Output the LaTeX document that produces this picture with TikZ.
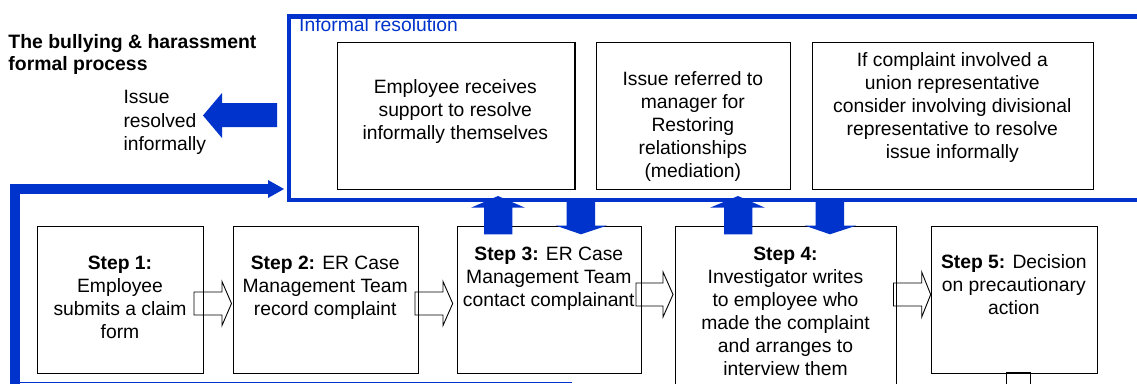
\documentclass[tikz,border=0pt]{standalone}
\usepackage{fontspec}
\setmainfont{Liberation Sans}
\definecolor{ublue}{RGB}{0,51,204}
\tikzset{
  box/.style={draw=black, line width=1.3pt, inner sep=0pt, anchor=north west},
  txt/.style={inner sep=0pt, align=center, anchor=north, font=\fontsize{19.3}{23}\selectfont},
  bluefill/.style={fill=ublue, draw=none},
  openarrow/.style={draw=black, line width=0.9pt, line join=miter, fill=none},
}
\begin{document}
\begin{tikzpicture}[x=1pt,y=-1pt]
\useasboundingbox (0,0) rectangle (1137,383);
\clip (0,0) rectangle (1137,383);

% informal resolution frame
\node[draw=ublue, line width=4.5pt, inner sep=0pt, anchor=north west,
      minimum width=900pt, minimum height=183.5pt] (inf) at (286.5,14) {};
\node[anchor=base west, inner sep=0pt, text=ublue, font=\fontsize{19.3}{23}\selectfont]
      (inftitle) at (299,31.7) {Informal resolution};

% title
\node[anchor=north west, inner sep=0pt, align=left, font=\fontsize{19.4}{22.4}\selectfont\bfseries]
      (title) at (8.3,32.6) {\strut The bullying \& harassment\\\strut formal process};

% issue resolved informally
\node[anchor=north west, inner sep=0pt, align=left, font=\fontsize{19.3}{23.5}\selectfont]
      (resolved) at (123.3,86.85) {\strut Issue\\\strut resolved\\\strut informally};
\fill[ublue] (277,103) -- (222,103) -- (222,93) -- (203,115.5) -- (222,138) -- (222,127) -- (277,127) -- cycle;

% informal boxes
\node[box, minimum width=237.3pt, minimum height=147.3pt] (ia) at (337,41.7) {};
\node[box, minimum width=194.3pt, minimum height=147.3pt] (ib) at (595.7,41.7) {};
\node[box, minimum width=281.3pt, minimum height=147.3pt] (ic) at (811.7,41.7) {};
\node[txt] (iat) at (455.3,77.4) {\strut Employee receives\\\strut support to resolve\\\strut informally themselves};
\node[txt] (ibt) at (692.8,68.9) {\strut Issue referred to\\\strut manager for\\\strut Restoring\\\strut relationships\\\strut (mediation)};
\node[txt] (ict) at (952.3,50.6) {\strut If complaint involved a\\\strut union representative\\\strut consider involving divisional\\\strut representative to resolve\\\strut issue informally};

% step boxes
\node[box, minimum width=166pt, minimum height=147pt] (s1) at (37,225.7) {};
\node[box, minimum width=185pt, minimum height=147pt] (s2) at (232.7,225.7) {};
\node[box, minimum width=184.3pt, minimum height=147pt] (s3) at (456.7,225.7) {};
\node[box, minimum width=221pt, minimum height=200pt] (s4) at (675,225.7) {};
\node[box, minimum width=166.3pt, minimum height=147pt] (s5) at (930.7,225.7) {};
\node[txt] (s1t) at (120,253.2) {\strut\textbf{Step 1:}\\\strut Employee\\\strut submits a claim\\\strut form};
\node[txt] (s2t) at (325.2,253.2) {\strut\textbf{Step 2:} ER Case\\\strut Management Team\\\strut record complaint};
\node[txt] (s3t) at (548.8,243.9) {\strut\textbf{Step 3:} ER Case\\\strut Management Team\\\strut contact complainant};
\node[txt] (s4t) at (785.5,243.9) {\strut\textbf{Step 4:}\\\strut Investigator writes\\\strut to employee who\\\strut made the complaint\\\strut and arranges to\\\strut interview them};
\node[txt] (s5t) at (1013.8,252.2) {\strut\textbf{Step 5:} Decision\\\strut on precautionary\\\strut action};

% open block arrows between steps
\draw[openarrow] (194,292) -- (222,292) -- (222,281.5) -- (231.5,303.5) -- (222,325.5) -- (222,315) -- (194,315) -- cycle;
\draw[openarrow] (415,292) -- (443,292) -- (443,281.5) -- (452.7,303.5) -- (443,325.5) -- (443,315) -- (415,315) -- cycle;
\draw[openarrow] (636,283) -- (663,283) -- (663,272) -- (673,294.5) -- (663,317) -- (663,306) -- (636,306) -- cycle;
\draw[openarrow] (893.5,283) -- (921.7,283) -- (921.7,272) -- (930.7,294.5) -- (921.7,317) -- (921.7,306) -- (893.5,306) -- cycle;
\draw[openarrow] (1006.7,400) -- (1006.7,372.7) -- (1030,372.7) -- (1030,400);

% blue arrows between steps and informal frame
\fill[ublue] (484,234.3) -- (484,207.7) -- (471,207.7) -- (498,196) -- (525,207.7) -- (512.3,207.7) -- (512.3,234.3) -- cycle;
\fill[ublue] (566.7,198) -- (566.7,225.7) -- (556,225.7) -- (581,234.3) -- (606.7,225.7) -- (595,225.7) -- (595,198) -- cycle;
\fill[ublue] (724,234.3) -- (724,207.7) -- (710,207.7) -- (738,196) -- (765,207.7) -- (752.3,207.7) -- (752.3,234.3) -- cycle;
\fill[ublue] (815.7,198) -- (815.7,225.7) -- (805,225.7) -- (830,234.3) -- (856,225.7) -- (844,225.7) -- (844,198) -- cycle;

% feedback path
\coordinate (fbstart) at (15,400);
\coordinate (fbend) at (268,189);
\draw[ublue, line width=9.5pt, line join=miter] (fbstart) |- (fbend);
\fill[ublue] (268,180) -- (284,189) -- (268,198) -- cycle;
\coordinate (bl1) at (15,382.3);
\coordinate (bl2) at (572,382.3);
\draw[ublue, line width=1.5pt] (bl1) -- (bl2);
\end{tikzpicture}
\end{document}
